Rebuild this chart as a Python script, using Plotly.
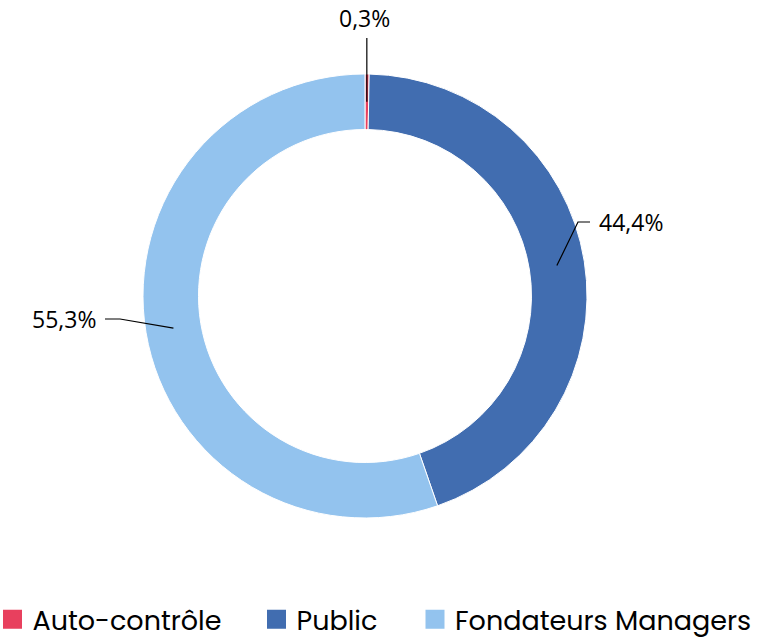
import math
import plotly.graph_objects as go

categories = ["Auto-contrôle", "Public", "Fondateurs Managers"]
values = [0.3, 44.4, 55.3]
labels_text = ["0,3%", "44,4%", "55,3%"]
colors = ["#E8405E", "#416DB0", "#93C3EE"]

W, H = 777, 639
cx, cy, R = 365, 296, 222
hole = 0.75

fig = go.Figure(go.Pie(
    labels=categories, values=values, sort=False, direction="clockwise", rotation=0,
    hole=hole, marker=dict(colors=colors, line=dict(color="white", width=1)),
    textinfo="none", hoverinfo="label+percent", showlegend=False,
    domain=dict(x=[(cx - R) / W, (cx + R) / W], y=[1 - (cy + R) / H, 1 - (cy - R) / H]),
))

def px2paper(x, y):
    return x / W, 1 - y / H

# label layout: elbow point, end of horizontal segment, text anchor
label_layout = [
    dict(elbow=None, end=(None, 38), text=(364, 18), anchor="center"),
    dict(elbow=(578, 222), end=(590, 222), text=(597, 222), anchor="left"),
    dict(elbow=(120, 319), end=(105, 319), text=(98, 319), anchor="right"),
]

total = sum(values)
cum = 0
shapes, annotations = [], []
rm = R * (1 + hole) / 2
for v, t, lay in zip(values, labels_text, label_layout):
    mid = (cum + v / 2) / total * 2 * math.pi
    cum += v
    sx, sy = cx + rm * math.sin(mid), cy - rm * math.cos(mid)
    pts = [(sx, sy)]
    if lay["elbow"] is not None:
        pts.append(lay["elbow"])
        pts.append(lay["end"])
    else:
        pts.append((sx, lay["end"][1]))
    path = "M " + " L ".join(f"{px2paper(x, y)[0]},{px2paper(x, y)[1]}" for x, y in pts)
    shapes.append(dict(type="path", xref="paper", yref="paper", path=path,
                       line=dict(color="black", width=1.2)))
    tx, ty = px2paper(*lay["text"])
    annotations.append(dict(x=tx, y=ty, xref="paper", yref="paper", text=t, showarrow=False,
                            xanchor=lay["anchor"], yanchor="middle",
                            font=dict(family="Open Sans, Liberation Sans, sans-serif", size=23, color="black")))

# legend entries: one legend per category, positioned along the bottom
legend_x_px = [-7.5, 256.5, 415]
legend_font = dict(family="Poppins, Open Sans, sans-serif", size=27, color="black")
legend_layouts = {}
for i, (cat, col, lx) in enumerate(zip(categories, colors, legend_x_px)):
    lname = "legend" if i == 0 else f"legend{i + 1}"
    fig.add_trace(go.Scatter(
        x=[None], y=[None], mode="markers", name=cat, legend=lname,
        marker=dict(symbol="square", size=16, color=col, line=dict(color=col, width=3)),
        hoverinfo="skip",
    ))
    legend_layouts[lname] = dict(x=lx / W, xanchor="left", y=-0.008, yanchor="bottom",
                                 orientation="v", font=legend_font, itemwidth=30,
                                 bgcolor="rgba(0,0,0,0)")

fig.update_layout(
    width=W, height=H, margin=dict(l=0, r=0, t=0, b=0, autoexpand=False),
    paper_bgcolor="white", plot_bgcolor="white",
    xaxis=dict(visible=False), yaxis=dict(visible=False),
    shapes=shapes, annotations=annotations,
    showlegend=True,
    **legend_layouts,
)

fig.write_html("out.html", config={"displayModeBar": False},
               post_script="document.body.style.margin='0';")
